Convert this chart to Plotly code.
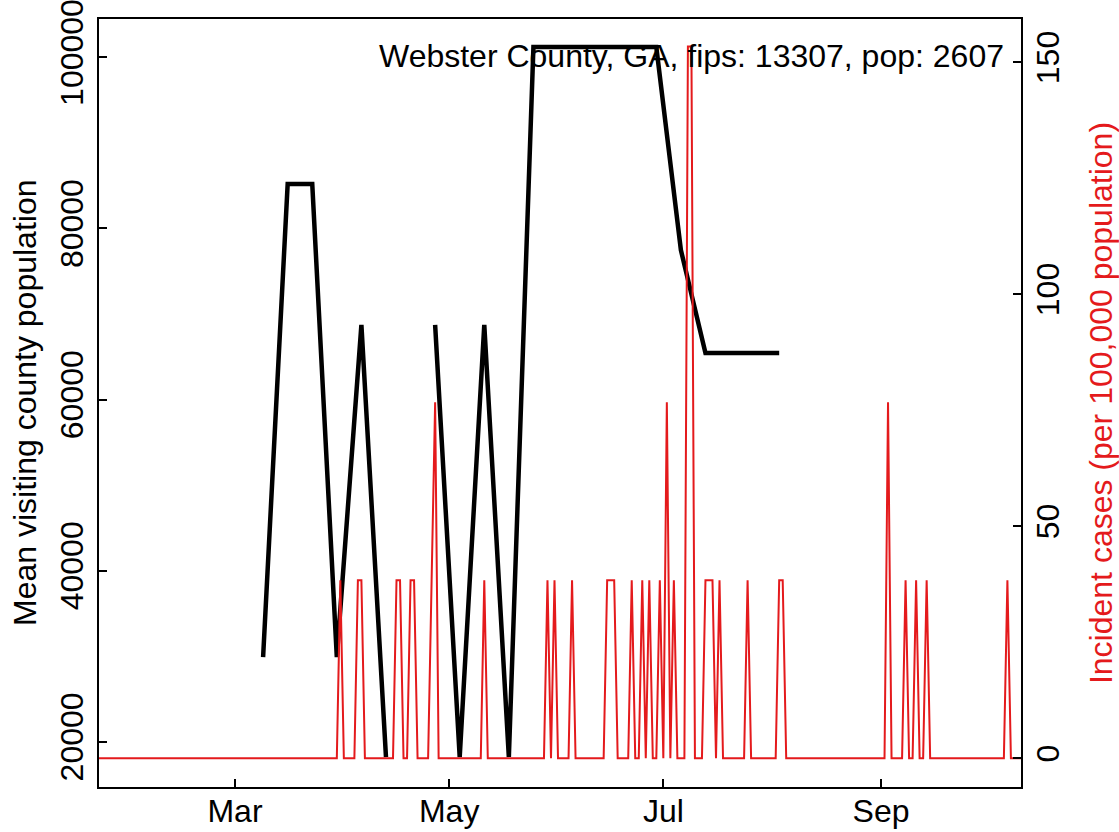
import pandas as pd
import plotly.graph_objects as go

# ---- data ----
# weekly mean visiting county population (black line); None = missing week
visit_dates = ["2020-03-09", "2020-03-16", "2020-03-23", "2020-03-30", "2020-04-06",
               "2020-04-13", "2020-04-20", "2020-04-27", "2020-05-04", "2020-05-11",
               "2020-05-18", "2020-05-25", "2020-06-01", "2020-06-08", "2020-06-15",
               "2020-06-22", "2020-06-29", "2020-07-06", "2020-07-13", "2020-07-20",
               "2020-07-27", "2020-08-03"]
visit_values = [29900, 85190, 85190, 29900, 68710,
                18210, None, 68710, 18210, 68710,
                18210, 101200, 101200, 101200, 101200,
                101200, 101200, 77470, 65440, 65440,
                65440, 65440]

# daily incident cases per 100,000 (red line); days not listed are 0
case_start = "2020-01-22"
case_end = "2020-10-11"
case_dates = ["2020-03-31", "2020-04-05", "2020-04-06", "2020-04-16", "2020-04-17",
              "2020-04-20", "2020-04-21", "2020-04-26", "2020-04-27", "2020-05-11",
              "2020-05-29", "2020-05-31", "2020-06-05", "2020-06-15", "2020-06-16",
              "2020-06-17", "2020-06-22", "2020-06-25", "2020-06-27", "2020-06-30",
              "2020-07-02", "2020-07-04", "2020-07-08", "2020-07-09", "2020-07-13",
              "2020-07-14", "2020-07-15", "2020-07-17", "2020-07-25", "2020-08-03",
              "2020-08-04", "2020-09-03", "2020-09-08", "2020-09-11", "2020-09-14",
              "2020-10-07"]
case_values = [38.36, 38.36, 38.36, 38.36, 38.36,
               38.36, 38.36, 38.36, 76.71, 38.36,
               38.36, 38.36, 38.36, 38.36, 38.36,
               38.36, 38.36, 38.36, 38.36, 38.36,
               76.71, 38.36, 153.43, 153.43, 38.36,
               38.36, 38.36, 38.36, 38.36, 38.36,
               38.36, 76.71, 38.36, 38.36, 38.36,
               38.36]

x_ticks = ["2020-03-01", "2020-05-01", "2020-07-01", "2020-09-01"]
x_tick_labels = ["Mar", "May", "Jul", "Sep"]
y_ticks = [20000, 40000, 60000, 80000, 100000]
y2_ticks = [0, 50, 100, 150]
title_text = "Webster County, GA, fips: 13307, pop: 2607"
y_title = "Mean visiting county population"
y2_title = "Incident cases (per 100,000 population)"

# ---- build daily series ----
days = pd.date_range(case_start, case_end, freq="D")
cases = pd.Series(0.0, index=days)
for d, v in zip(case_dates, case_values):
    cases[pd.Timestamp(d)] = v

FONT = "Liberation Sans, Arial, sans-serif"
FS = 32
RED = "#E41A1C"

W, H = 1119, 832
L, R, T, B = 99, 98, 19, 45
PW, PH = W - L - R, H - T - B

fig = go.Figure()
fig.add_trace(go.Scatter(x=list(cases.index), y=list(cases.values), mode="lines",
                         line=dict(color=RED, width=2), yaxis="y2",
                         hoverinfo="skip", showlegend=False))
fig.add_trace(go.Scatter(x=visit_dates, y=visit_values, mode="lines",
                         line=dict(color="black", width=4.5), connectgaps=False,
                         yaxis="y", showlegend=False))

fig.update_layout(
    width=W, height=H,
    margin=dict(l=L, r=R, t=T, b=B, pad=0, autoexpand=False),
    paper_bgcolor="white", plot_bgcolor="white",
    font=dict(family=FONT, size=FS, color="black"),
    showlegend=False,
    xaxis=dict(
        range=["2020-01-22 06:15", "2020-10-10 21:00"],
        tickvals=x_ticks, ticktext=x_tick_labels,
        ticks="inside", ticklen=8, tickwidth=2, tickcolor="black",
        showline=True, linecolor="black", linewidth=2, mirror=True,
        showgrid=False, zeroline=False, ticklabelstandoff=-5, automargin=False,
        ticklabeloverflow="allow",
    ),
    yaxis=dict(
        range=[14705, 104477],
        tickvals=y_ticks, ticktext=[str(v) for v in y_ticks],
        tickangle=-90,
        ticks="inside", ticklen=8, tickwidth=2, tickcolor="black",
        showline=True, linecolor="black", linewidth=2, mirror=True,
        showgrid=False, zeroline=False, ticklabelstandoff=1, automargin=False,
        ticklabeloverflow="allow",
    ),
    yaxis2=dict(
        range=[-6.19, 159.33], overlaying="y", side="right",
        tickvals=y2_ticks, ticktext=[str(v) for v in y2_ticks],
        tickangle=-90,
        ticks="inside", ticklen=8, tickwidth=2, tickcolor="black",
        showline=False, showgrid=False, zeroline=False, ticklabelstandoff=5,
        automargin=False, ticklabeloverflow="allow",
        title=dict(text=y2_title, standoff=25, font=dict(size=FS, color=RED)),
    ),
    annotations=[
        dict(text=title_text, xref="paper", yref="paper",
             x=(1006 - L) / PW, y=(H - B - 56) / PH,
             xanchor="right", yanchor="middle", showarrow=False,
             font=dict(size=FS, color="black")),
        dict(text=y_title, xref="paper", yref="paper",
             x=(25 - L) / PW, y=(H - B - 403) / PH, textangle=-90,
             xanchor="center", yanchor="middle", showarrow=False,
             font=dict(size=FS, color="black")),
    ],
)

fig.write_html("out.html", config={"displayModeBar": False},
               post_script="document.body.style.margin='0px';")
